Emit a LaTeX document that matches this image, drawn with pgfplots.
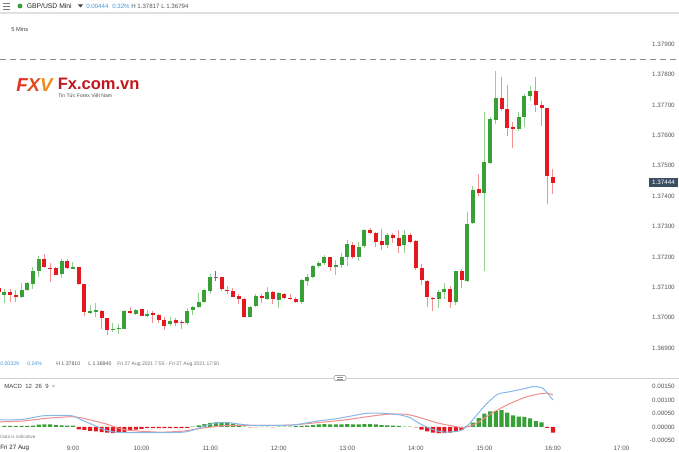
\documentclass[border=0pt]{standalone}
\usepackage{pgfplots}
\pgfplotsset{compat=1.18}
\usepackage{pgfplotstable}
\usepackage{fontspec}
\setmainfont{Liberation Sans}
\newcommand\fs[1]{\fontsize{#1}{#1}\selectfont}
\definecolor{cg}{HTML}{38A036}
\definecolor{cgw}{HTML}{92D18E}
\definecolor{cr}{HTML}{E3191F}
\definecolor{crw}{HTML}{F29191}
\definecolor{pg}{HTML}{B4E0B1}
\definecolor{pr}{HTML}{F6B9B9}
\definecolor{lbl}{HTML}{555555}
\definecolor{mblue}{HTML}{86B8E8}
\definecolor{msig}{HTML}{F08E8E}
\definecolor{hblue}{HTML}{4A96D4}
\definecolor{tag}{HTML}{3B4D63}
\definecolor{logored}{HTML}{C0161D}

\pgfplotstableread{
i o h l c
0 1.37075 1.37093 1.37047 1.37085
3 1.37069 1.37113 1.37064 1.37091
4 1.37091 1.37116 1.37089 1.37113
5 1.37111 1.37166 1.37095 1.37153
6 1.37153 1.37203 1.37135 1.37192
10 1.37144 1.37192 1.37132 1.37187
12 1.37162 1.37183 1.37161 1.37166
15 1.37016 1.37042 1.37013 1.37022
16 1.37021 1.37047 1.37001 1.37023
19 1.36960 1.36982 1.36952 1.36964
20 1.36964 1.36979 1.36946 1.36967
21 1.36964 1.37025 1.36962 1.37023
23 1.37012 1.37030 1.37009 1.37025
25 1.37007 1.37025 1.37001 1.37012
29 1.36978 1.37001 1.36974 1.36990
32 1.36982 1.37031 1.36976 1.37023
33 1.37024 1.37038 1.37009 1.37034
34 1.37034 1.37082 1.37032 1.37052
35 1.37051 1.37093 1.37049 1.37090
36 1.37089 1.37144 1.37078 1.37135
43 1.37003 1.37038 1.37001 1.37036
44 1.37037 1.37078 1.37034 1.37072
46 1.37061 1.37102 1.37058 1.37084
48 1.37059 1.37084 1.37031 1.37080
52 1.37051 1.37126 1.37045 1.37124
53 1.37122 1.37144 1.37104 1.37134
54 1.37133 1.37172 1.37132 1.37170
55 1.37169 1.37188 1.37162 1.37181
56 1.37181 1.37206 1.37173 1.37199
58 1.37169 1.37190 1.37141 1.37173
59 1.37172 1.37214 1.37164 1.37199
60 1.37201 1.37256 1.37170 1.37242
62 1.37201 1.37249 1.37187 1.37232
63 1.37236 1.37291 1.37230 1.37289
67 1.37238 1.37278 1.37230 1.37272
70 1.37239 1.37289 1.37212 1.37272
76 1.37061 1.37091 1.37031 1.37084
77 1.37084 1.37115 1.37062 1.37093
79 1.37053 1.37155 1.37042 1.37153
81 1.37121 1.37348 1.37118 1.37309
82 1.37311 1.37433 1.37308 1.37420
84 1.37411 1.37677 1.37155 1.37511
85 1.37508 1.37661 1.37506 1.37653
86 1.37650 1.37812 1.37637 1.37722
90 1.37620 1.37676 1.37614 1.37660
91 1.37661 1.37737 1.37628 1.37729
92 1.37730 1.37762 1.37714 1.37747
}\greentab

\pgfplotstableread{
i o h l c
-1 1.37098 1.37116 1.37080 1.37085
1 1.37085 1.37093 1.37053 1.37075
2 1.37075 1.37091 1.37053 1.37070
7 1.37192 1.37210 1.37163 1.37166
8 1.37164 1.37179 1.37117 1.37161
9 1.37164 1.37168 1.37139 1.37141
11 1.37186 1.37192 1.37161 1.37163
13 1.37166 1.37166 1.37108 1.37110
14 1.37110 1.37111 1.37007 1.37018
17 1.37022 1.37025 1.36962 1.36998
18 1.36998 1.36999 1.36943 1.36960
22 1.37023 1.37034 1.37012 1.37014
24 1.37028 1.37030 1.37006 1.37007
26 1.37015 1.37022 1.36982 1.37011
27 1.37010 1.37012 1.36982 1.36992
28 1.36992 1.37001 1.36960 1.36973
30 1.36993 1.36999 1.36974 1.36984
31 1.36987 1.36992 1.36963 1.36983
38 1.37135 1.37135 1.37089 1.37093
39 1.37092 1.37104 1.37078 1.37088
40 1.37088 1.37097 1.37067 1.37069
41 1.37070 1.37077 1.37045 1.37062
42 1.37062 1.37064 1.37001 1.37003
45 1.37071 1.37077 1.37047 1.37064
47 1.37085 1.37088 1.37045 1.37061
49 1.37079 1.37082 1.37062 1.37065
50 1.37066 1.37077 1.37058 1.37062
51 1.37062 1.37067 1.37049 1.37051
57 1.37199 1.37201 1.37154 1.37168
61 1.37240 1.37248 1.37194 1.37199
64 1.37289 1.37296 1.37274 1.37280
65 1.37278 1.37281 1.37234 1.37249
66 1.37251 1.37291 1.37223 1.37239
68 1.37271 1.37280 1.37245 1.37261
69 1.37262 1.37289 1.37214 1.37237
71 1.37272 1.37280 1.37245 1.37248
72 1.37253 1.37256 1.37157 1.37162
73 1.37162 1.37177 1.37108 1.37124
74 1.37120 1.37124 1.37036 1.37069
75 1.37066 1.37067 1.37023 1.37061
78 1.37095 1.37104 1.37031 1.37052
80 1.37155 1.37161 1.37097 1.37123
83 1.37422 1.37472 1.37400 1.37409
87 1.37722 1.37793 1.37681 1.37686
88 1.37686 1.37766 1.37599 1.37623
89 1.37626 1.37643 1.37559 1.37620
93 1.37746 1.37791 1.37678 1.37700
94 1.37700 1.37713 1.37632 1.37689
95 1.37691 1.37691 1.37374 1.37467
96 1.37464 1.37488 1.37407 1.37444
}\redtab

\pgfplotstableread{
i o h l c
37 1.37134 1.37154 1.37122 1.37134
}\graytab

\pgfplotsset{
  wick/.style={draw=none, mark=none, forget plot,
    error bars/.cd, y dir=both, y explicit, error mark=none,
    error bar style={draw=#1, line width=0.75pt}},
  body/.style={draw=none, mark=none, forget plot,
    error bars/.cd, y dir=both, y explicit, error mark=none,
    error bar style={draw=#1, line width=3.0pt}},
  hbar/.style={ybar, bar width=3.1pt, bar shift=0pt, fill=#1, draw=none},
}

\begin{document}
\begin{tikzpicture}[x=0.75pt,y=0.75pt]
\path[use as bounding box, fill=white] (0,0) rectangle (679,452);

% header
\draw[lbl!80, line width=0.6pt] (3,449) -- (10,449) (3,446) -- (10,446) (3,443) -- (10,443);
\fill[cg] (20,446) circle (2.4);
\node[anchor=west, inner sep=0pt, font=\fs{5.1}, text=black!85] at (26.5,446) {GBP/USD Mini};
\fill[black!75] (78,447.5) -- (83,447.5) -- (80.5,444.5) -- cycle;
\node[anchor=west, inner sep=0pt, font=\fs{4.6}, text=hblue] at (86,446) {0.00444};
\node[anchor=west, inner sep=0pt, font=\fs{4.6}, text=hblue] at (112,446) {0.32\%};
\node[anchor=west, inner sep=0pt, font=\fs{4.6}, text=lbl] at (131,446) {H 1.37817};
\node[anchor=west, inner sep=0pt, font=\fs{4.6}, text=lbl] at (161,446) {L 1.36794};
\draw[black!12, line width=0.9pt] (0,439) -- (679,439);
\node[anchor=west, inner sep=0pt, font=\fs{4.3}, text=black!75] at (11,423) {5 Mins};

% logo
\node[anchor=west, inner sep=0pt, font=\fs{14}\bfseries\itshape] at (16,367)
  {\textcolor[HTML]{E8301F}{F}\textcolor[HTML]{E24A1A}{X}\textcolor[HTML]{F08A1C}{V}};
\node[anchor=west, inner sep=0pt, font=\fs{12.4}\bfseries, text=logored] at (57.5,368) {Fx.com.vn};
\node[anchor=west, inner sep=0pt, font=\fs{3.8}, text=black!70] at (58,355.5) {Tin Tức Forex Việt Nam};

% dashed line
\draw[black!45, dash pattern=on 4.5 off 3, line width=0.6pt] (0,393) -- (679,393);

% main price axis (prices drawn in thousandths above 1.37000)
\begin{axis}[at={(0pt,67.5pt)}, anchor=south west, scale only axis,
  width=486pt, height=243pt,
  xmin=-0.775, xmax=112.63, ymin=-1.4572, ymax=9.2007,
  axis line style={draw=none}, major tick length=0pt, xtick=\empty,
  scaled y ticks=false, scaled x ticks=false,
  ytick={-1,0,1,2,3,4,5,6,7,8,9},
  yticklabels={1.36900,1.37000,1.37100,1.37200,1.37300,1.37400,1.37500,1.37600,1.37700,1.37800,1.37900},
  yticklabel pos=right,
  yticklabel style={anchor=east, xshift=20.25pt, inner sep=0pt, font=\fs{4.7}, text=lbl},
]
\addplot[wick=cgw] table[x=i, y expr={500*(\thisrow{h}-1.37)+500*(\thisrow{l}-1.37)}, y error expr={500*(\thisrow{h}-\thisrow{l})}]{\greentab};
\addplot[wick=crw] table[x=i, y expr={500*(\thisrow{h}-1.37)+500*(\thisrow{l}-1.37)}, y error expr={500*(\thisrow{h}-\thisrow{l})}]{\redtab};
\addplot[wick=black!55] table[x=i, y expr={500*(\thisrow{h}-1.37)+500*(\thisrow{l}-1.37)}, y error expr={500*(\thisrow{h}-\thisrow{l})}]{\graytab};
\addplot[body=cg] table[x=i, y expr={500*(\thisrow{o}-1.37)+500*(\thisrow{c}-1.37)}, y error expr={max(500*abs(\thisrow{o}-\thisrow{c}),0.017)}]{\greentab};
\addplot[body=cr] table[x=i, y expr={500*(\thisrow{o}-1.37)+500*(\thisrow{c}-1.37)}, y error expr={max(500*abs(\thisrow{o}-\thisrow{c}),0.017)}]{\redtab};
\addplot[body=black!55] table[x=i, y expr={500*(\thisrow{o}-1.37)+500*(\thisrow{c}-1.37)}, y error expr={max(500*abs(\thisrow{o}-\thisrow{c}),0.012)}]{\graytab};
\end{axis}

% price tag
\fill[tag] (649,264.7) rectangle (678,274.3);
\node[inner sep=0pt, font=\fs{4.7}, text=white] at (663.5,269.5) {1.37444};

% info line
\node[anchor=west, inner sep=0pt, font=\fs{3.9}, text=hblue] at (0,88) {0.00329};
\node[anchor=west, inner sep=0pt, font=\fs{3.9}, text=hblue] at (27,88) {0.24\%};
\node[anchor=west, inner sep=0pt, font=\fs{3.9}, text=lbl] at (56,88) {H 1.37810};
\node[anchor=west, inner sep=0pt, font=\fs{3.9}, text=lbl] at (88,88) {L 1.36940};
\node[anchor=west, inner sep=0pt, font=\fs{3.8}, text=lbl!80] at (117,88) {Fri 27 Aug 2021 7:55 - Fri 27 Aug 2021 17:50};
\draw[black!18, line width=0.7pt] (0,74) -- (679,74);
\draw[black!35, fill=white, rounded corners=1pt, line width=0.4pt] (334,71.5) rectangle (346,76.5);
\draw[black!45, line width=0.35pt] (337,74.8) -- (343,74.8) (337,73.2) -- (343,73.2);

\node[anchor=west, inner sep=0pt, font=\fs{4.5}, text=black!75] at (4,66) {MACD~~12~~26~~9~~\textcolor{black!45}{×}};
\node[anchor=west, inner sep=0pt, font=\fs{3.5}, text=black!50] at (0,15) {Data is indicative};
\node[anchor=west, inner sep=0pt, font=\fs{4.7}, text=black!85] at (0,4) {Fri 27 Aug};

% MACD axis
\begin{axis}[at={(0pt,6pt)}, anchor=south west, scale only axis,
  width=486pt, height=48pt,
  xmin=-0.775, xmax=112.63, ymin=-0.00063, ymax=0.00174,
  axis line style={draw=none}, major tick length=0pt,
  scaled y ticks=false, scaled x ticks=false,
  xtick={12,24,36,48,60,72,84,96,108},
  xticklabels={9:00,10:00,11:00,12:00,13:00,14:00,15:00,16:00,17:00},
  xticklabel style={anchor=north, inner sep=0pt, yshift=-1.6pt, font=\fs{4.7}, text=lbl},
  ytick={-0.0005,0,0.0005,0.001,0.0015},
  yticklabels={-0.00050,0.00000,0.00050,0.00100,0.00150},
  yticklabel pos=right,
  yticklabel style={anchor=east, xshift=20.25pt, inner sep=0pt, font=\fs{4.7}, text=lbl},
]
\addplot[hbar=cg] coordinates {
(0,0.00004)(1,0.00004)(2,0.00004)(3,0.00004)(4,0.00004)(5,0.00005)(6,0.00009)(7,0.0001)(8,0.0001)(9,0.00007)(10,0.00006)(11,0.00005)(12,0.00005)
(34,0.00006)(35,0.00011)(36,0.00015)(37,0.00017)(38,0.00016)(39,0.00015)(40,0.00012)(41,0.00009)
(51,0.00003)(52,0.00004)(53,0.00005)(54,0.00007)(55,0.0001)(56,0.00011)(57,0.0001)(58,0.0001)(59,0.0001)(60,0.00011)(61,0.0001)(62,0.0001)(63,0.00011)(64,0.00011)(65,0.0001)(66,0.00007)(67,0.00006)(68,0.00005)(69,0.00004)
(81,0.00004)(82,0.00016)(83,0.00033)(84,0.00049)(85,0.00058)(86,0.0006)(87,0.00062)(88,0.00053)(89,0.00043)(90,0.00038)(91,0.00037)(92,0.00032)(93,0.00022)(94,0.00017)};
\addplot[hbar=cr] coordinates {
(13,-0.00009)(14,-0.00011)(15,-0.00014)(16,-0.00016)(17,-0.00019)(18,-0.00021)(19,-0.00023)(20,-0.00022)(21,-0.0002)(22,-0.00012)(23,-0.0001)(24,-0.00007)
(25,-0.00004)(26,-0.00004)(27,-0.00004)(28,-0.00004)(29,-0.00004)(30,-0.00004)(31,-0.00004)(32,-0.00003)
(73,-0.0001)(74,-0.00016)(75,-0.00021)(76,-0.00023)(77,-0.00023)(78,-0.00021)(79,-0.00017)(80,-0.00012)
(95,-0.00003)(96,-0.00021)};
\addplot[hbar=pg] coordinates {
(33,0.00003)(42,0.00005)(45,0.00002)(46,0.00002)(48,0.00003)(49,0.00003)(50,0.00003)(70,0.00003)(71,0.00003)};
\addplot[hbar=pr] coordinates {
(43,-0.00003)(44,-0.00002)(47,-0.00002)(72,-0.00004)};
\addplot[msig, line width=0.75pt, mark=none, smooth, tension=0.4] coordinates {
(-1,0.00019)(3.2,0.00022)(7.3,0.00032)(12,0.00038)(14.6,0.00028)(18,0.0001)(20.7,-0.00009)(23.3,-0.00015)(27.4,-0.00019)(31.4,-0.00015)(35.4,-0.00002)(39.4,0.00006)(46.1,0.00006)(50.1,0.00007)(54.8,0.00016)(59.5,0.00026)(63.5,0.00038)(66.9,0.00047)(70.2,0.00047)(72.2,0.00038)(75.6,0.00016)(78.3,0.00004)(80.3,-0.00002)(82.3,0.0001)(85,0.00047)(87.6,0.00078)(91,0.00109)(93.7,0.00123)(95,0.00125)(96,0.00119)};
\addplot[mblue, line width=0.75pt, mark=none, smooth, tension=0.4] coordinates {
(-1,0.00026)(3.2,0.00028)(6.6,0.00041)(9.9,0.00043)(12,0.00041)(13.3,0.00028)(15.3,0.0001)(17.3,-0.00009)(19.3,-0.00019)(22.7,-0.00021)(27.4,-0.00021)(31.4,-0.00019)(33.4,-0.00009)(35.4,0.00007)(37.4,0.00016)(39.4,0.00016)(41.4,0.0001)(43.4,0.00006)(46.1,0.00006)(50.1,0.00007)(52.1,0.00012)(54.8,0.00022)(58.2,0.00031)(60.8,0.00041)(63.5,0.00051)(66.2,0.00051)(68.9,0.00046)(70.9,0.00035)(72.9,0.0001)(74.9,-0.00009)(76.9,-0.00019)(79.6,-0.00015)(81,0.00004)(82.3,0.00035)(84.3,0.00084)(86.3,0.00121)(88.3,0.0013)(91,0.00142)(92.7,0.0015)(94.3,0.00142)(96,0.001)};
\end{axis}
\end{tikzpicture}
\end{document}
